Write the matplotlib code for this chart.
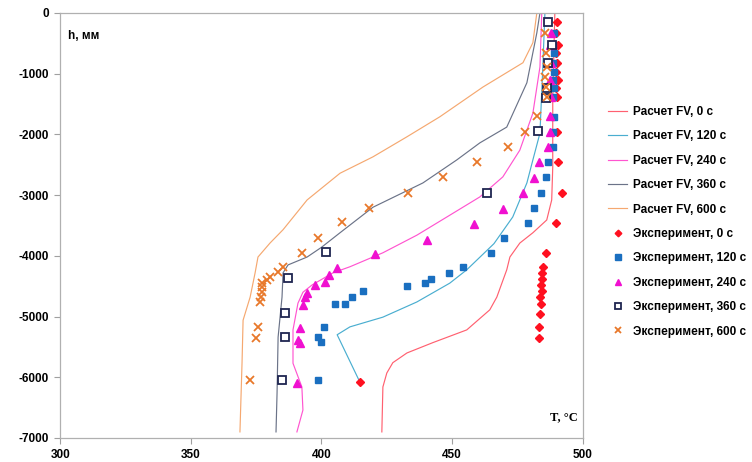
import matplotlib
matplotlib.use('Agg')
from matplotlib import pyplot as plt

# calculated profiles (FV), T in degC, h in mm
fv0_t = [423.1, 423.5, 425.0, 427.3, 432.7, 442.6, 455.6, 464.4, 467.1, 470.9, 472.1, 475.9, 480.9,
         486.2, 488.1, 488.5, 488.5, 489.3]
fv0_h = [-6900, -6160, -5930, -5760, -5600, -5430, -5220, -4890, -4680, -4230, -4020, -3790, -3620,
         -3410, -3080, -2540, -1430, 0]

fv120_t = [414.7, 406.0, 410.9, 423.5, 436.5, 449.1, 455.6, 466.0, 473.2, 478.6, 480.9, 483.6, 484.7, 485.5]
fv120_h = [-6080, -5300, -5170, -5010, -4760, -4450, -4230, -3800, -3360, -2800, -2420, -1980, -890, 0]

fv240_t = [390.6, 392.9, 392.5, 389.1, 389.1, 391.0, 392.9, 396.4, 404.4, 410.9, 423.5, 436.5, 448.0,
           460.6, 469.4, 475.9, 480.9, 483.6, 484.3]
fv240_h = [-6900, -6540, -6160, -5770, -5220, -4780, -4600, -4480, -4280, -4180, -3950, -3660, -3360,
           -3030, -2700, -2260, -1650, -890, 0]

fv360_t = [382.6, 383.0, 383.4, 384.9, 385.3, 387.2, 394.5, 400.0, 407.1, 419.7, 438.8, 451.8, 460.6,
           470.9, 478.6, 482.4, 483.6]
fv360_h = [-6900, -6260, -5340, -4680, -4280, -4150, -4020, -3860, -3620, -3200, -2800, -2420, -2140,
           -1880, -1150, -330, 0]

fv600_t = [368.8, 369.6, 370.0, 372.7, 374.6, 375.7, 380.3, 385.3, 394.5, 407.1, 419.7, 432.7, 445.3,
           461.8, 477.1, 480.9, 482.4]
fv600_h = [-6900, -5760, -5060, -4680, -4280, -4020, -3790, -3570, -3080, -2640, -2370, -2040, -1710,
           -1220, -820, -490, 0]

# experiment
exp0_t = [490.2, 489.8, 490.4, 489.6, 490.2, 489.8, 490.4, 489.9, 490.3, 490.1, 490.4, 492.0, 489.7,
          485.9, 484.6, 484.2, 484.4, 484.0, 484.2, 483.8, 483.9, 483.6, 483.4, 483.2, 414.7]
exp0_h = [-150, -330, -530, -660, -820, -970, -1100, -1240, -1380, -1960, -2450, -2960, -3460,
          -3950, -4180, -4280, -4380, -4480, -4580, -4680, -4790, -4950, -5170, -5350, -6080]

exp120_t = [488.8, 488.6, 488.9, 488.7, 488.8, 488.6, 488.9, 488.5, 488.9, 488.5, 488.5, 486.6, 485.9,
            483.9, 481.3, 479.0, 469.8, 464.8, 454.1, 448.8, 441.9, 439.6, 432.7, 415.9, 411.7, 409.0,
            405.2, 401.0, 398.7, 399.8, 398.7]
exp120_h = [-330, -530, -660, -820, -970, -1100, -1240, -1380, -1710, -1960, -2200, -2450, -2700,
            -2960, -3210, -3460, -3700, -3950, -4180, -4280, -4380, -4450, -4500, -4580, -4680, -4790,
            -4790, -5170, -5340, -5420, -6050]

exp240_t = [487.8, 487.6, 487.9, 487.5, 487.8, 487.4, 487.4, 486.6, 483.2, 481.3, 477.1, 469.4, 458.3,
            440.3, 420.5, 405.9, 402.9, 401.3, 397.5, 394.5, 393.7, 392.9, 391.8, 391.0, 391.8, 390.6]
exp240_h = [-330, -530, -820, -1100, -1380, -1700, -1960, -2200, -2450, -2720, -2960, -3230, -3470,
            -3740, -3970, -4200, -4320, -4430, -4480, -4610, -4680, -4810, -5190, -5390, -5440, -6100]

exp360_t = [486.6, 488.1, 486.6, 486.2, 485.9, 482.8, 463.3, 401.7, 387.2, 386.0, 386.0, 384.9]
exp360_h = [-150, -530, -830, -1240, -1400, -1940, -2960, -3930, -4370, -4940, -5330, -6050]

exp600_t = [485.5, 485.8, 486.2, 485.5, 485.8, 486.2, 482.4, 477.8, 471.3, 459.5, 446.4, 433.1, 418.2,
            407.8, 398.7, 392.5, 385.3, 383.4, 380.3, 379.2, 377.2, 377.2, 377.2, 376.9, 376.5, 375.7,
            375.0, 372.7]
exp600_h = [-330, -660, -890, -1050, -1220, -1380, -1700, -1960, -2200, -2450, -2700, -2970, -3210,
            -3450, -3710, -3950, -4180, -4270, -4350, -4400, -4450, -4510, -4600, -4680, -4760, -5170,
            -5350, -6040]

x_ticks = [300, 350, 400, 450, 500]
y_ticks = [0, -1000, -2000, -3000, -4000, -5000, -6000, -7000]

plt.rcParams['font.family'] = ['Liberation Sans', 'DejaVu Sans']
plt.rcParams['font.weight'] = 'bold'
plt.rcParams['axes.unicode_minus'] = False

fig = plt.figure(figsize=(7.52, 4.62), dpi=100)
ax = fig.add_axes([0.080, 0.052, 0.695, 0.920])

ax.plot(fv0_t, fv0_h, color='#ff6070', lw=0.85, label='Расчет FV, 0 c')
ax.plot(fv120_t, fv120_h, color='#4aaed0', lw=0.85, label='Расчет FV, 120 c')
ax.plot(fv240_t, fv240_h, color='#ff55d0', lw=0.85, label='Расчет FV, 240 c')
ax.plot(fv360_t, fv360_h, color='#6b7388', lw=0.85, label='Расчет FV, 360 c')
ax.plot(fv600_t, fv600_h, color='#f5a870', lw=0.85, label='Расчет FV, 600 c')

ax.plot(exp0_t, exp0_h, ls='none', marker='D', ms=4.2, color='#ff1020', label='Эксперимент, 0 c')
ax.plot(exp120_t, exp120_h, ls='none', marker='s', ms=5, color='#1a6fc0', label='Эксперимент, 120 c')
ax.plot(exp240_t, exp240_h, ls='none', marker='^', ms=5.5, color='#f010d0', label='Эксперимент, 240 c')
ax.plot(exp360_t, exp360_h, ls='none', marker='s', ms=5.5, mfc='white', mec='#1f2550', mew=1.3,
        label='Эксперимент, 360 c')
ax.plot(exp600_t, exp600_h, ls='none', marker='x', ms=5.5, mew=1.3, color='#e8782a',
        label='Эксперимент, 600 c')

ax.set_xlim(300, 500)
ax.set_ylim(-7000, 0)
ax.set_xticks(x_ticks)
ax.set_yticks(y_ticks)
ax.tick_params(labelsize=8.5, length=4, width=0.8, color='#a0a0a0', pad=4)
for sp in ax.spines.values():
    sp.set_color('#b0b0b0')
    sp.set_linewidth(0.9)

ax.text(0.015, 0.96, 'h, мм', transform=ax.transAxes, fontsize=8.5, fontweight='bold', va='top')
ax.text(0.99, 0.035, 'T, °C', transform=ax.transAxes, fontsize=9, fontweight='bold',
        family='Liberation Serif', ha='right', va='bottom')

fig.legend(loc='center left', bbox_to_anchor=(0.795, 0.52), frameon=False, fontsize=8.5,
           labelspacing=1.05, handlelength=1.6, handletextpad=0.5, markerscale=0.8)

fig.savefig('out.png', dpi=100)
